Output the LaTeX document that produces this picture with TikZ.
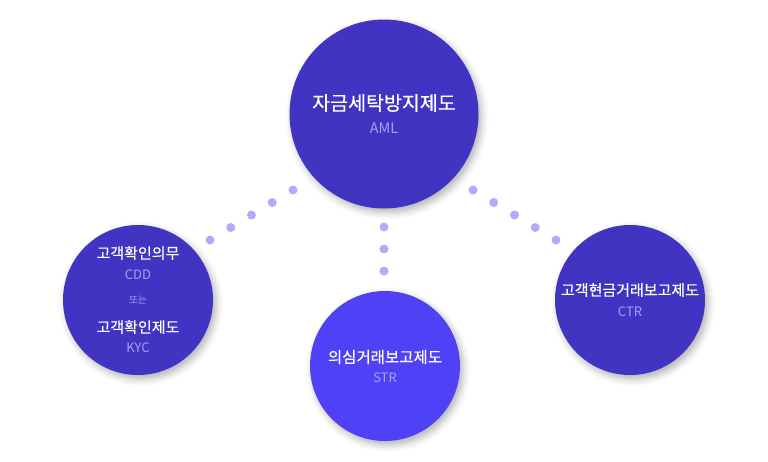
\documentclass[tikz,border=0pt]{standalone}
\usepackage{fontspec}
\setmainfont{Noto Sans CJK KR}
\newfontfamily\headfont[FakeBold=0.4]{Noto Sans CJK KR}
\usepackage{tikz}
\usetikzlibrary{calc,shadows.blur}
\usepackage{xcolor}
\definecolor{circmain}{HTML}{4134C3}
\definecolor{circbright}{HTML}{4F42F6}
\definecolor{subcol}{HTML}{A79EF6}
\definecolor{dotcol}{HTML}{B3AAF8}

\tikzset{
  bubble/.style={circle, fill=circmain, inner sep=0pt, align=center, text=white,
    blur shadow={shadow xshift=3pt, shadow yshift=-4pt, shadow blur radius=7pt, shadow opacity=30}},
  title/.style={text=white, font=\headfont\fontsize{15}{15}\selectfont},
  sub/.style={text=subcol, font=\fontsize{13}{13}\selectfont}
}

\begin{document}
\begin{tikzpicture}[x=1pt, y=-1pt]
  \useasboundingbox (0,0) rectangle (768,461);

  % Circles
  \node[bubble, minimum size=189] (aml) at (384,114) {};
  \node[bubble, minimum size=150] (cdd) at (138,300) {};
  \node[bubble, minimum size=150, fill=circbright] (str) at (385,366) {};
  \node[bubble, minimum size=150] (ctr) at (630,300) {};

  % Labels
  \node[title, font=\headfont\fontsize{19.5}{19.5}\selectfont] (amlt) at (384,103) {자금세탁방지제도};
  \node[sub, font=\fontsize{14.5}{14.5}\selectfont] (amls) at (384,128) {AML};

  \node[title] (cddt) at (138,253) {고객확인의무};
  \node[sub] (cdds) at (138,275) {CDD};
  \node[sub, font=\fontsize{9.5}{9.5}\selectfont] (cddo) at (138,300) {또는};
  \node[title] (kyct) at (138,327) {고객확인제도};
  \node[sub] (kycs) at (138,348) {KYC};

  \node[title, font=\headfont\fontsize{15.5}{15.5}\selectfont] (strt) at (385,357) {의심거래보고제도};
  \node[sub] (strs) at (385,378) {STR};

  \node[title] (ctrt) at (630,290) {고객현금거래보고제도};
  \node[sub] (ctrs) at (630,312) {CTR};

  % Dotted links
  \coordinate (la) at (293,190);
  \coordinate (lb) at (210,240);
  \coordinate (ra) at (473,190);
  \coordinate (rb) at (556,240);
  \coordinate (ma) at (384,227);
  \coordinate (mb) at (384,271);
  \foreach \t in {0,...,4} {
    \fill[dotcol] ($(la)!\t/4!(lb)$) circle (4.5);
    \fill[dotcol] ($(ra)!\t/4!(rb)$) circle (4.5);
  }
  \foreach \t in {0,...,2}
    \fill[dotcol] ($(ma)!\t/2!(mb)$) circle (4.5);
\end{tikzpicture}
\end{document}
